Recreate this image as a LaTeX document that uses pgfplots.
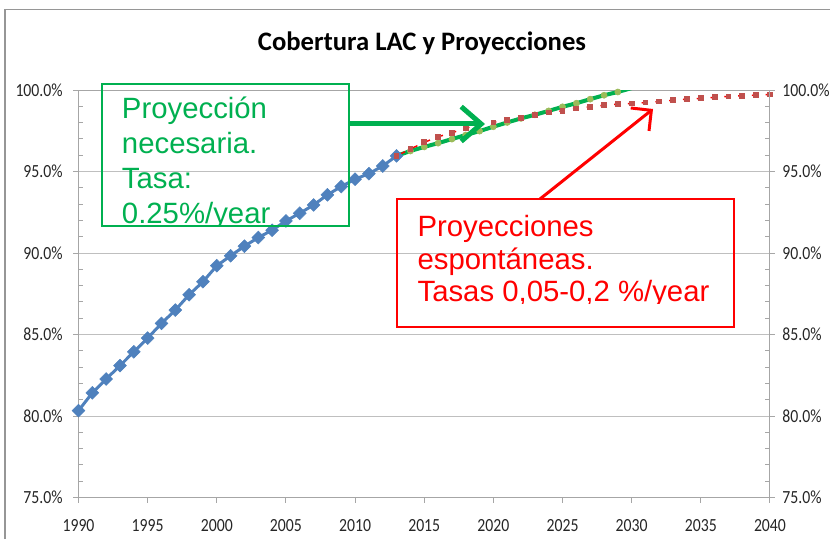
\documentclass[border=0pt]{standalone}
\usepackage{fontspec}
\setmainfont{Liberation Sans}
\newfontfamily\carlito{Carlito}
\usepackage{pgfplots}
\pgfplotsset{compat=1.18}
\usetikzlibrary{arrows.meta}
\definecolor{bl}{HTML}{4F81BD}
\definecolor{gr}{HTML}{00B050}
\definecolor{lgr}{HTML}{9BBB59}
\definecolor{dred}{HTML}{C0504D}
\definecolor{axgray}{HTML}{A6A6A6}
\definecolor{gridgray}{HTML}{BFBFBF}
\definecolor{framegray}{HTML}{969696}
\pgfplotsset{
  common/.style={
    at={(0,0)}, anchor=south west,
    scale only axis, width=518.6pt, height=305.6pt,
    xmin=1990, xmax=2040, ymin=75, ymax=100,
    ytick={75,80,...,100},
    yticklabels={75.0\%,80.0\%,85.0\%,90.0\%,95.0\%,100.0\%},
    minor y tick num=4,
    tick align=outside,
    major tick length=3.75pt,
    minor tick length=3.75pt,
    tick style={axgray, line width=0.75pt},
    axis line style={axgray, line width=0.75pt},
    ticklabel style={font=\carlito\fontsize{13.9}{15}\selectfont, text=black!85, xscale=0.85},
  }
}
\begin{document}
\begin{tikzpicture}
\begin{axis}[common,
  xtick={1990,1995,...,2040},
  xticklabels={1990,1995,2000,2005,2010,2015,2020,2025,2030,2035,2040},
  xtick pos=bottom, ytick pos=left,
  minor y tick style={xshift=3.75pt},
  xticklabel style={yshift=-9pt},
  yticklabel style={xshift=-6pt},
  ymajorgrids, major grid style={gridgray, line width=0.75pt},
]
\addplot[bl, line width=2.25pt, mark=square*, mark size=3.4pt,
  mark options={rotate=45, solid, fill=bl, draw=bl, line width=0.4pt}] coordinates {
(1990,80.33) (1991,81.42) (1992,82.27) (1993,83.09) (1994,83.94) (1995,84.78)
(1996,85.68) (1997,86.50) (1998,87.44) (1999,88.24) (2000,89.22) (2001,89.83)
(2002,90.42) (2003,90.95) (2004,91.40) (2005,91.97) (2006,92.44) (2007,92.95)
(2008,93.57) (2009,94.08) (2010,94.53) (2011,94.87) (2012,95.34) (2013,95.96)
};
\addplot[gr, line width=3pt] coordinates {
(2013,95.96) (2014,96.26) (2015,96.51) (2016,96.74) (2017,96.99) (2018,97.24)
(2019,97.48) (2020,97.75) (2021,98.01) (2022,98.26) (2023,98.48) (2024,98.72)
(2025,98.97) (2026,99.19) (2027,99.44) (2028,99.68) (2029,99.88) (2030,100.12)
};
\addplot[draw=none, mark=*, mark size=2.3pt, mark options={fill=lgr, draw=lgr}] coordinates {
(2014,96.26) (2015,96.51) (2016,96.74) (2017,96.99) (2018,97.24)
(2019,97.48) (2020,97.75) (2021,98.01) (2022,98.26) (2023,98.48) (2024,98.72)
(2025,98.97) (2026,99.19) (2027,99.44) (2028,99.68) (2029,99.88)
};
\addplot[red, line width=1.1pt, dash pattern=on 3.75pt off 6.6pt, dash phase=7.05pt,
  mark=square*, mark size=1.6pt, mark options={solid, fill=dred, draw=dred}] coordinates {
(2013,95.96) (2014,96.38) (2015,96.79) (2016,97.13) (2017,97.38) (2018,97.65)
(2019,97.91) (2020,98.01) (2021,98.16) (2022,98.30) (2023,98.47) (2024,98.62)
(2025,98.73) (2026,98.87) (2027,98.98) (2028,99.07) (2029,99.13) (2030,99.18)
(2031,99.23) (2032,99.29) (2033,99.37) (2034,99.44) (2035,99.49) (2036,99.55)
(2037,99.61) (2038,99.65) (2039,99.69) (2040,99.73)
};
\end{axis}
\begin{axis}[common,
  hide x axis,
  axis y line*=right,
  minor y tick style={xshift=-3.75pt},
  yticklabel style={xshift=3pt},
]
\addplot[draw=none] coordinates {(1990,75)};
\end{axis}
\begin{scope}[x=0.75pt,y=-0.75pt,shift={(-58.875pt,373.125pt)}]
\draw[framegray, line width=1pt] (5,539) -- (5,9.5) -- (830,9.5);
\node[anchor=base, inner sep=0] at (422,51)
  {\carlito\bfseries\fontsize{20}{24}\selectfont Cobertura LAC y Proyecciones};
% green annotation
\draw[gr, line width=1.5pt] (102,84) rectangle (349,226);
\begin{scope}
\clip (102,84) rectangle (349,226);
\begin{scope}[every node/.style={anchor=base west, inner sep=0, text=gr, font=\fontsize{22}{26}\selectfont}]
\node at (121.7,118.3) {Proyección};
\node at (121.7,153.3) {necesaria.};
\node at (121.7,188.3) {Tasa:};
\node at (121.7,223.3) {0.25\%/year};
\end{scope}
\end{scope}
\draw[gr, line width=3.75pt, -{Straight Barb[length=15pt,width=26pt]}] (349,124) -- (485,124);
% red annotation
\draw[red, line width=1.5pt] (397,199.3) rectangle (734.3,326.7);
\begin{scope}
\clip (397,199.3) rectangle (734.3,304);
\begin{scope}[every node/.style={anchor=base west, inner sep=0, text=red, font=\fontsize{22}{26}\selectfont}]
\node at (417.3,236.7) {Proyecciones};
\node at (417.3,270) {espontáneas.};
\node at (417.3,301.7) {Tasas 0,05-0,2 \%/year};
\end{scope}
\end{scope}
\draw[red, line width=2.25pt, -{Straight Barb[length=11pt,width=22pt]}] (540,199) -- (653,109);
\end{scope}
\pgfresetboundingbox
\begin{scope}[x=0.75pt,y=-0.75pt,shift={(-58.875pt,373.125pt)}]
\path[use as bounding box] (0,0) rectangle (830,539);
\end{scope}
\end{tikzpicture}
\end{document}
